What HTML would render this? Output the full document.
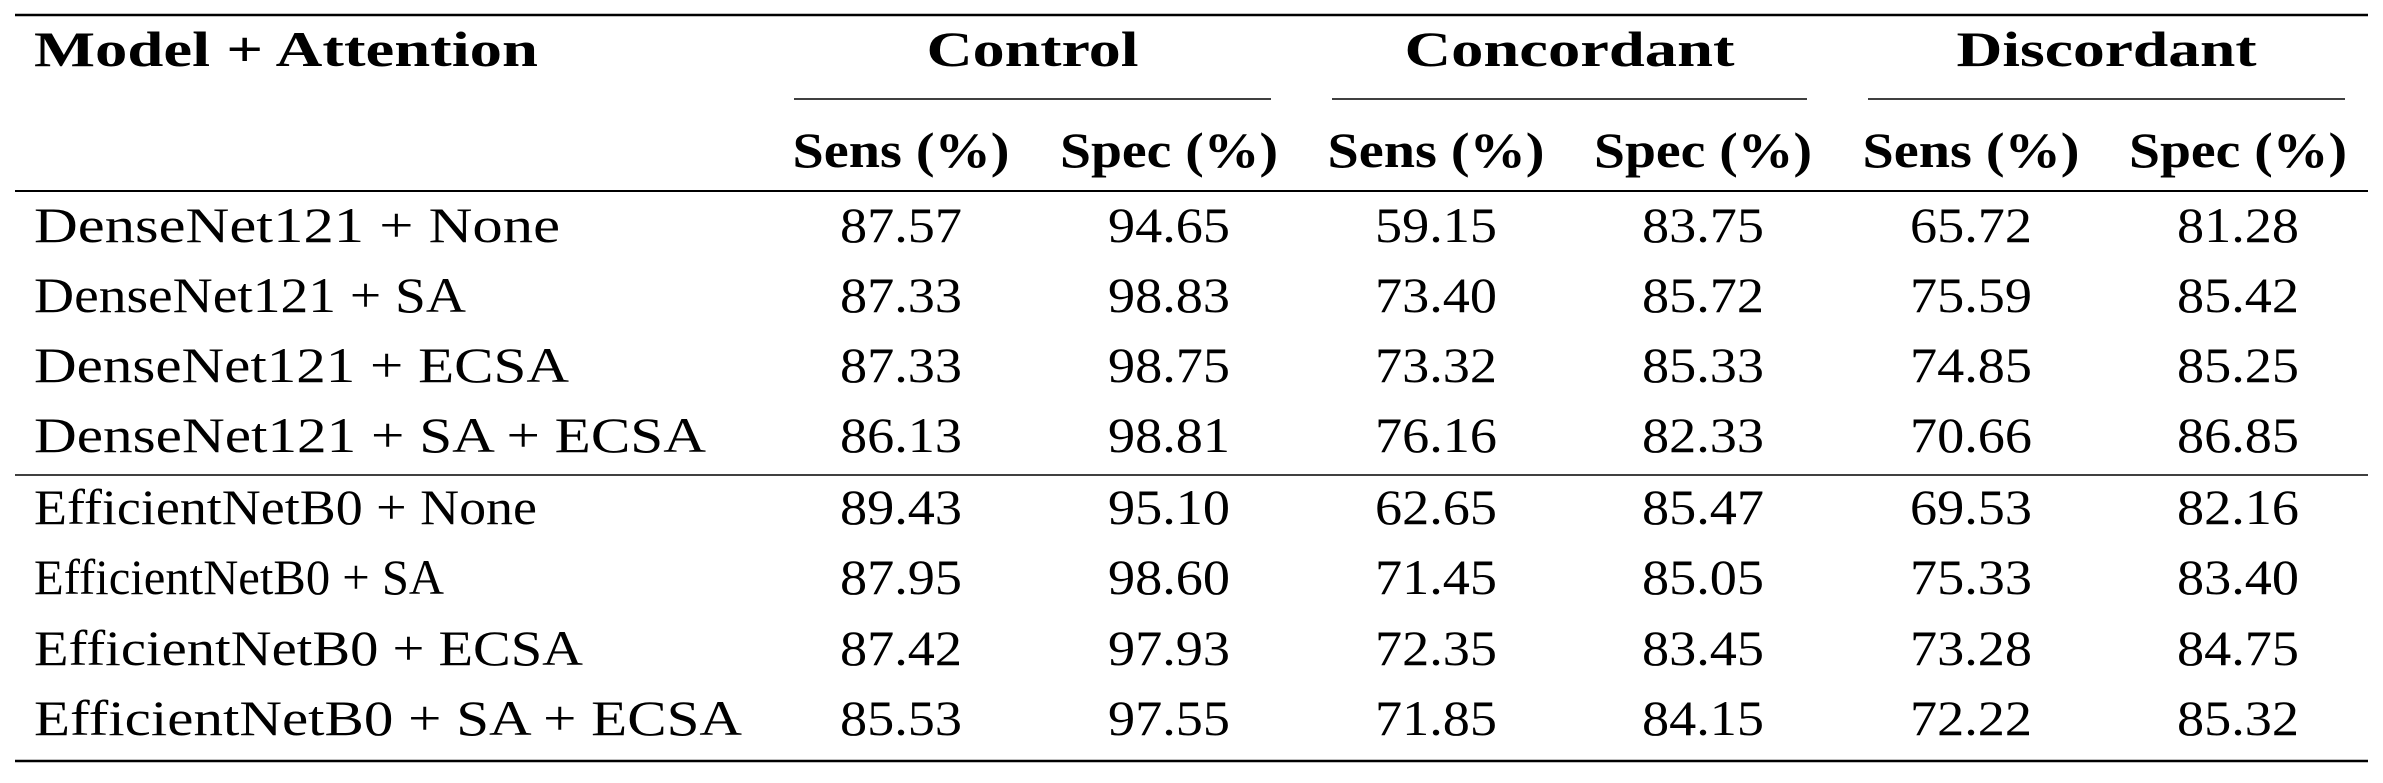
<!DOCTYPE html>
<html><head><meta charset="utf-8"><style>
html,body{margin:0;padding:0;background:#fff;}
svg{display:block;}
text{font-family:"Liberation Serif",serif;fill:#000;}
</style></head><body>
<svg id="tbl" width="2383" height="783" viewBox="0 0 2383 783" xmlns="http://www.w3.org/2000/svg">
<rect width="2383" height="783" fill="#fff"/>
</svg>
<script>
const models = ["DenseNet121 + None","DenseNet121 + SA","DenseNet121 + ECSA","DenseNet121 + SA + ECSA","EfficientNetB0 + None","EfficientNetB0 + SA","EfficientNetB0 + ECSA","EfficientNetB0 + SA + ECSA"];
const controlSens = ["87.57","87.33","87.33","86.13","89.43","87.95","87.42","85.53"];
const controlSpec = ["94.65","98.83","98.75","98.81","95.10","98.60","97.93","97.55"];
const concSens = ["59.15","73.40","73.32","76.16","62.65","71.45","72.35","71.85"];
const concSpec = ["83.75","85.72","85.33","82.33","85.47","85.05","83.45","84.15"];
const discSens = ["65.72","75.59","74.85","70.66","69.53","75.33","73.28","72.22"];
const discSpec = ["81.28","85.42","85.25","86.85","82.16","83.40","84.75","85.32"];
const groups = ["Control","Concordant","Discordant"];
const subHeads = ["Sens (%)","Spec (%)","Sens (%)","Spec (%)","Sens (%)","Spec (%)"];

const svg = document.getElementById('tbl');
const NS = "http://www.w3.org/2000/svg";
const colX = [901,1169,1436,1703,1971,2238];
const rowY = [242,312,382,452,524,594,665,735];
function line(x1,y,x2,w,name){
  const l=document.createElementNS(NS,'line');
  l.setAttribute('x1',x1);l.setAttribute('x2',x2);l.setAttribute('y1',y);l.setAttribute('y2',y);
  l.setAttribute('stroke','#000');l.setAttribute('stroke-width',w);
  
  
  svg.appendChild(l);
}
function txt(s,x,y,opts,name){
  const t=document.createElementNS(NS,'text');
  t.textContent=s;t.setAttribute('x',x);t.setAttribute('y',y);
  t.setAttribute('font-size',opts.size||50);
  if(opts.bold)t.setAttribute('font-weight','bold');
  if(opts.anchor)t.setAttribute('text-anchor',opts.anchor);
  if(opts.len){t.setAttribute('textLength',opts.len);t.setAttribute('lengthAdjust','spacingAndGlyphs');}
  
  
  svg.appendChild(t);
}
line(15,15,2368,2.5,'top-rule');
line(15,191,2368,2,'header-rule');
line(15,475,2368,1.6,'group-rule');
line(15,761,2368,2.5,'bottom-rule');
const cm=[[794,1271],[1332,1807],[1868,2345]];
cm.forEach((c,i)=>line(c[0],99,c[1],1.6,'cmidrule-'+groups[i].toLowerCase()));
txt("Model + Attention",34,66,{bold:true,len:504},'model-attention-header');
const gLen=[212,330,300];
groups.forEach((g,i)=>txt(g,(cm[i][0]+cm[i][1])/2,66,{bold:true,anchor:'middle',len:gLen[i]},'group-header-'+g.toLowerCase()));
subHeads.forEach((s,i)=>txt(s,colX[i],167,{bold:true,anchor:'middle',len:i%2?218:217},'subheader-'+i));
const cols=[controlSens,controlSpec,concSens,concSpec,discSens,discSpec];
const modelLen=[526,432,535,672,503,410,549,708];
models.forEach((m,r)=>{
  txt(m,34,rowY[r],{len:modelLen[r]},'model-label');
  cols.forEach((c,ci)=>txt(c[r],colX[ci],rowY[r],{anchor:'middle',len:122},'cell-value'));
});
</script>
</body></html>
